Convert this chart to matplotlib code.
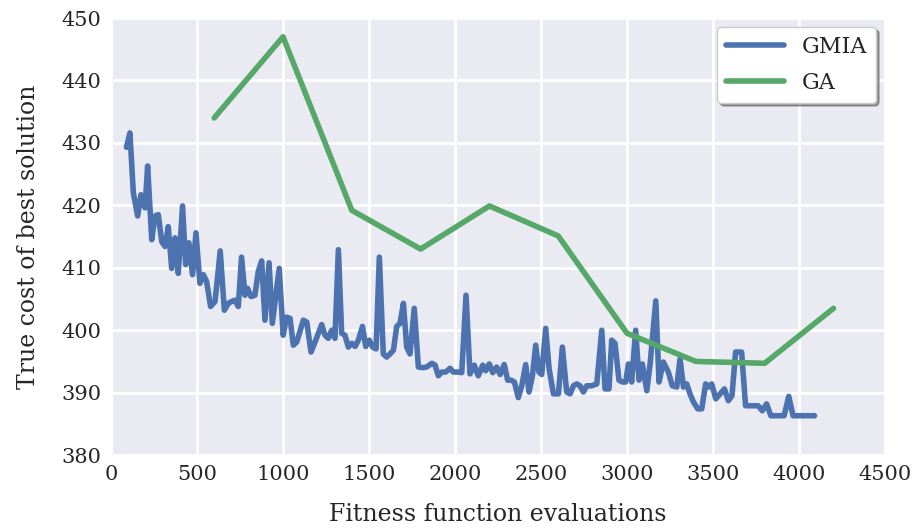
import matplotlib
matplotlib.use('Agg')
import matplotlib.pyplot as plt
import seaborn as sns

# GMIA: best-so-far cost, (evaluations, cost)
gmia_evals = [90, 110, 130, 155, 174, 198, 213, 237, 256, 275, 295, 314, 333, 353, 372, 391,
              416, 434, 453, 474, 494, 517, 537, 556, 579, 605, 635, 659, 682, 701, 721, 740,
              759, 779, 794, 814, 837, 856, 876, 895, 919, 938, 978, 1001, 1021, 1041, 1060,
              1080, 1118, 1138, 1163, 1186, 1225, 1244, 1263, 1283, 1302, 1322, 1341, 1360,
              1380, 1400, 1419, 1438, 1462, 1481, 1502, 1521, 1541, 1560, 1583, 1603, 1622,
              1642, 1661, 1680, 1700, 1719, 1738, 1763, 1787, 1810, 1835, 1865, 1884, 1903,
              1923, 1946, 1971, 1990, 2019, 2039, 2064, 2087, 2112, 2135, 2161, 2178, 2199,
              2219, 2242, 2262, 2286, 2306, 2326, 2345, 2368, 2388, 2411, 2430, 2450, 2469,
              2488, 2504, 2527, 2547, 2572, 2601, 2624, 2649, 2669, 2688, 2708, 2727, 2746,
              2766, 2795, 2824, 2853, 2872, 2895, 2911, 2930, 2953, 2973, 2992, 3008, 3027,
              3050, 3070, 3089, 3115, 3134, 3167, 3186, 3211, 3240, 3263, 3289, 3308, 3328,
              3347, 3366, 3386, 3411, 3434, 3457, 3477, 3492, 3516, 3541, 3566, 3589, 3610,
              3631, 3666, 3689, 3724, 3762, 3786, 3811, 3836, 3869, 3913, 3940, 3965, 3994,
              4090]
gmia_cost = [429.3, 431.6, 422.0, 418.3, 421.7, 419.6, 426.3, 414.5, 418.3, 418.5, 414.2, 413.4,
             416.6, 409.9, 414.8, 409.1, 419.9, 410.5, 414.0, 408.9, 415.6, 407.5, 408.9, 407.8,
             403.8, 404.6, 412.7, 403.2, 404.3, 404.6, 404.8, 403.8, 411.7, 405.6, 406.7, 405.4,
             405.6, 409.4, 411.1, 401.6, 410.8, 401.1, 409.9, 399.2, 402.1, 401.9, 397.6, 398.1,
             401.6, 401.3, 396.5, 398.1, 400.9, 399.2, 398.7, 400.0, 398.7, 412.9, 399.5, 399.2,
             397.3, 397.9, 397.4, 398.4, 400.6, 397.4, 398.4, 397.3, 397.0, 411.7, 396.2, 395.7,
             396.2, 396.8, 400.6, 401.1, 404.3, 397.3, 396.2, 403.5, 394.1, 394.0, 394.1, 394.7,
             394.4, 392.7, 393.3, 393.3, 393.9, 393.3, 393.3, 393.2, 405.6, 393.0, 394.4, 392.7,
             394.4, 393.5, 394.6, 393.2, 394.1, 392.9, 394.5, 392.0, 392.0, 391.7, 389.2, 391.1,
             394.5, 390.1, 392.7, 397.6, 393.3, 392.9, 400.3, 393.8, 389.8, 389.8, 397.3, 390.1,
             389.8, 391.1, 391.4, 391.1, 390.1, 391.1, 391.1, 391.4, 400.0, 390.6, 390.6, 398.4,
             397.9, 392.0, 391.7, 391.7, 394.6, 391.7, 400.0, 392.0, 394.6, 390.3, 394.6, 404.7,
             391.7, 394.9, 393.3, 391.1, 390.9, 395.4, 390.9, 391.4, 389.8, 388.5, 387.4, 387.4,
             391.4, 390.9, 391.4, 389.0, 389.8, 390.6, 388.7, 389.5, 396.5, 396.5, 387.9, 387.9,
             387.9, 387.1, 388.2, 386.3, 386.3, 386.3, 389.4, 386.3, 386.3, 386.3]

# GA: one point per generation
ga_evals = [600, 1000, 1400, 1800, 2200, 2600, 3000, 3400, 3800, 4200]
ga_cost = [434.0, 447.0, 419.2, 413.0, 419.9, 415.1, 399.5, 395.0, 394.7, 403.5]

sns.set_style('darkgrid')
plt.rcParams['font.family'] = ['DejaVu Serif']

fig = plt.figure(figsize=(9.21, 5.31), dpi=100)
ax = fig.add_axes([0.1205, 0.143, 0.8405, 0.823])

ax.plot(gmia_evals, gmia_cost, color='#4C72B0', linewidth=4, label='GMIA')
ax.plot(ga_evals, ga_cost, color='#55A868', linewidth=4, label='GA')

ax.set_xlim(0, 4500)
ax.set_ylim(380, 450)
ax.set_xticks(range(0, 4501, 500))
ax.set_yticks(range(380, 451, 10))
ax.tick_params(labelsize=15, length=0, pad=7)
ax.grid(color='white', linewidth=2)
ax.set_xlabel('Fitness function evaluations', fontsize=17, labelpad=14)
ax.set_ylabel('True cost of best solution', fontsize=17, labelpad=15)

leg = ax.legend(loc='upper right', fontsize=16, frameon=True, shadow=True,
                facecolor='white', framealpha=1, handlelength=2.6,
                labelspacing=0.65, borderaxespad=0.4)

fig.savefig('out.png', dpi=100)
